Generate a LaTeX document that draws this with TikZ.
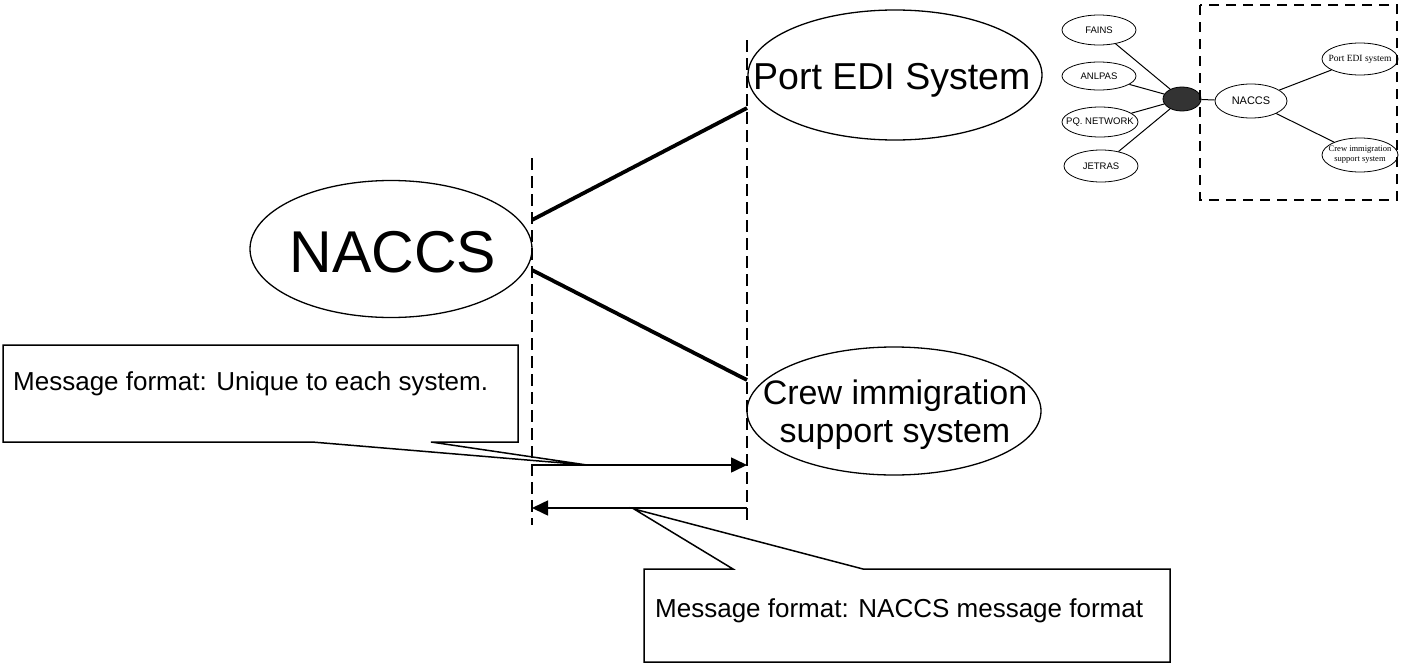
\documentclass[tikz,border=0pt]{standalone}
\usepackage{fontspec}
\setmainfont{Liberation Sans}
\newfontfamily\insetserif{Liberation Serif}
\usetikzlibrary{arrows.meta,shapes.geometric}
\tikzset{
  ell/.style={draw, ellipse, line width=1.3pt, inner sep=0pt},
  smallell/.style={draw, ellipse, line width=0.8pt, inner sep=0pt},
  sep/.style={line width=2.6pt, dash pattern=on 12pt off 6pt},
  thickconn/.style={line width=3.8pt},
  thinconn/.style={line width=1pt},
  msgarrow/.style={line width=1.6pt, -{Triangle[length=16pt,width=15pt]}},
  callout/.style={draw, line width=1.5pt, line join=miter},
  bigtxt/.style={anchor=base, inner sep=0pt},
  inset/.style={font=\fontsize{9.5}{10}\selectfont, inner sep=0pt},
}
\begin{document}
\begin{tikzpicture}[x=1pt,y=-1pt]
\useasboundingbox[fill=white] (0,0) rectangle (1406,664);

% ---------- main ellipses
\node[ell, minimum width=282pt, minimum height=137pt] (naccs) at (391,249) {};
\node[bigtxt, font=\fontsize{59}{60}\selectfont] at (393,272) {NACCS};

\node[ell, minimum width=294pt, minimum height=130pt] (port) at (895,75) {};
\node[anchor=base west, inner sep=0pt, font=\fontsize{37.5}{40}\selectfont] at (753,89) {Port EDI System};

\node[ell, minimum width=294pt, minimum height=128pt] (crew) at (894,411) {};
\node[bigtxt, font=\fontsize{34}{38}\selectfont] at (895,404) {Crew immigration};
\node[bigtxt, font=\fontsize{34}{38}\selectfont] at (895,442) {support system};

% ---------- dashed separators
\coordinate (l1top) at (532,158);
\coordinate (l1bot) at (532,525);
\coordinate (l2top) at (747,40);
\coordinate (l2bot) at (747,520);
\draw[sep] (l1top) -- (l1bot);
\draw[sep] (l2top) -- (l2bot);

% ---------- thick connectors
\coordinate (na) at (532,220);
\coordinate (nb) at (532,270);
\coordinate (pa) at (747,108);
\coordinate (ca) at (747,380);
\draw[thickconn] (na) -- (pa);
\draw[thickconn] (nb) -- (ca);

% ---------- message arrows
\coordinate (r1s) at (532,465);
\coordinate (r1e) at (747,465);
\coordinate (r2s) at (747,508);
\coordinate (r2e) at (532,508);
\draw[msgarrow] (r1s) -- (r1e);
\draw[msgarrow] (r2s) -- (r2e);

% ---------- callout 1
\coordinate (t1) at (587,465);
\draw[callout] (3,345) -- (518,345) -- (518,442) -- (431,442) -- (t1) -- (312,442) -- (3,442) -- cycle;
\node[anchor=base west, inner sep=0pt, font=\fontsize{26}{30}\selectfont] (msg1) at (13,390) {Message format: Unique to each system.};

% ---------- callout 2
\coordinate (t2) at (634,509);
\draw[callout] (644,569) -- (733,569) -- (t2) -- (863,569) -- (1170,569) -- (1170,662) -- (644,662) -- cycle;
\node[anchor=base west, inner sep=0pt, font=\fontsize{26}{30}\selectfont] (msg2) at (655,617) {Message format: NACCS message format};

% ---------- inset
\node[smallell, minimum width=74pt, minimum height=30pt] (fains) at (1099,30) {};
\node[inset] at (fains.center) {FAINS};
\node[smallell, minimum width=74pt, minimum height=28pt] (anlpas) at (1099,76) {};
\node[inset] at (anlpas.center) {ANLPAS};
\node[smallell, minimum width=76pt, minimum height=30pt] (pq) at (1100,122) {};
\node[inset] at (pq.center) {PQ. NETWORK};
\node[smallell, minimum width=74pt, minimum height=32pt] (jetras) at (1101,166) {};
\node[inset] at (jetras.center) {JETRAS};

\node[smallell, fill=black!80, minimum width=38pt, minimum height=24pt] (hub) at (1182,99) {};

\node[smallell, minimum width=72pt, minimum height=34pt] (inaccs) at (1251,101) {};
\node[inset, font=\fontsize{11}{12}\selectfont] at (inaccs.center) {NACCS};

\node[smallell, minimum width=76pt, minimum height=32pt] (iport) at (1360,59) {};
\node[inset, font=\insetserif\fontsize{9.5}{10}\selectfont] at (iport.center) {Port EDI system};
\node[smallell, minimum width=76pt, minimum height=34pt] (icrew) at (1360,155) {};
\node[inset, font=\insetserif\fontsize{8.5}{10}\selectfont, align=center] at (icrew.center) {Crew immigration\\support system};

\draw[thinconn] (fains) -- (hub);
\draw[thinconn] (anlpas) -- (hub);
\draw[thinconn] (pq) -- (hub);
\draw[thinconn] (jetras) -- (hub);
\draw[thinconn] (hub) -- (inaccs);
\draw[thinconn] (inaccs) -- (iport);
\draw[thinconn] (inaccs) -- (icrew);

\coordinate (ib1) at (1200,5);
\coordinate (ib2) at (1397,200);
\draw[line width=2.6pt, dash pattern=on 10pt off 7pt] (ib1) rectangle (ib2);
\end{tikzpicture}
\end{document}
